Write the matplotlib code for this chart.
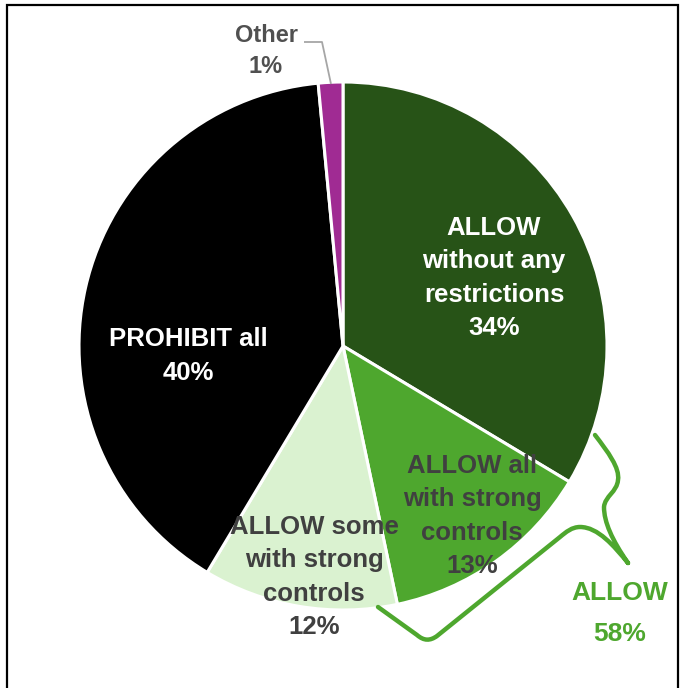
import matplotlib
matplotlib.use("Agg")
import matplotlib.pyplot as plt
from matplotlib.patches import Rectangle, PathPatch
from matplotlib.path import Path

# slice data (clockwise from 12 o'clock)
categories = ["ALLOW\nwithout any\nrestrictions", "ALLOW all\nwith strong\ncontrols",
              "ALLOW some\nwith strong\ncontrols", "PROHIBIT all", "Other"]
shares = [33.6, 13.1, 11.9, 39.9, 1.5]
pct_labels = ["34%", "13%", "12%", "40%", "1%"]
colors = ["#275317", "#4ea72e", "#daf2d0", "#000000", "#a02b93"]
text_colors = ["white", "#404040", "#404040", "white", "#505050"]
allow_total = "58%"

W, H = 686, 688
CX, CY, R = 343, 346, 264   # pie centre / radius in pixels

FONT = ["Liberation Sans Narrow", "Liberation Sans", "DejaVu Sans"]
plt.rcParams["font.family"] = FONT


def px(x, y):
    """pixel position -> data coords (pie radius = 1)"""
    return (x - CX) / R, (CY - y) / R


fig = plt.figure(figsize=(W / 100, H / 100), dpi=100)
ax = fig.add_axes([0, 0, 1, 1])

ax.pie(shares, colors=colors, startangle=90, counterclock=False, radius=1,
       wedgeprops=dict(edgecolor="white", linewidth=2.2))
ax.set_xlim(px(0, 0)[0], px(W, 0)[0])
ax.set_ylim(px(0, H)[1], px(0, 0)[1])
ax.set_aspect("auto")
ax.axis("off")

# slice labels
label_pos = [(494, 278), (472, 516), (314, 577), (188, 356)]
for i, (x, y) in enumerate(label_pos):
    ax.text(*px(x, y), categories[i] + "\n" + pct_labels[i], ha="center", va="center",
            fontsize=18.5, fontweight="bold", color=text_colors[i], linespacing=1.48)

# "Other" label with leader line
ax.text(*px(266, 51), categories[4] + "\n" + pct_labels[4], ha="center", va="center",
        fontsize=17, fontweight="bold", color=text_colors[4], linespacing=1.45)
lx, ly = zip(px(304, 42), px(322, 42), px(331, 84))
ax.plot(lx, ly, color="#a6a6a6", lw=1.3, solid_capstyle="butt")

# brace grouping the ALLOW slices
brace_px = [
    ((595, 435), Path.MOVETO),
    ((608, 452), Path.CURVE4), ((620, 468), Path.CURVE4), ((618, 480), Path.CURVE4),
    ((617, 492), Path.CURVE4), ((605, 496), Path.CURVE4), ((604, 507), Path.CURVE4),
    ((604, 522), Path.CURVE4), ((612, 540), Path.CURVE4), ((628, 563), Path.CURVE4),
    ((628, 563), Path.MOVETO),
    ((614, 546), Path.CURVE4), ((598, 527), Path.CURVE4), ((580, 527), Path.CURVE4),
    ((572, 527), Path.CURVE4), ((566, 532), Path.CURVE4), ((560, 537), Path.CURVE4),
    ((437, 636), Path.LINETO),
    ((430, 641), Path.CURVE4), ((424, 641), Path.CURVE4), ((417, 635), Path.CURVE4),
    ((378, 607), Path.LINETO),
]
verts = [px(*p) for p, _ in brace_px]
codes = [c for _, c in brace_px]
ax.add_patch(PathPatch(Path(verts, codes), facecolor="none", edgecolor="#4ea72e",
                       lw=3.2, capstyle="round", joinstyle="round"))

ax.text(*px(620, 593), "ALLOW", ha="center", va="center", fontsize=19,
        fontweight="bold", color="#4ea72e")
ax.text(*px(620, 634), allow_total, ha="center", va="center", fontsize=19,
        fontweight="bold", color="#4ea72e")

# outer frame
fig.patches.append(Rectangle((7 / W, -0.05), (678 - 7) / W, 1.05 - 5 / H,
                             transform=fig.transFigure, fill=False,
                             edgecolor="black", lw=1.6))

fig.savefig("out.png", dpi=100)
